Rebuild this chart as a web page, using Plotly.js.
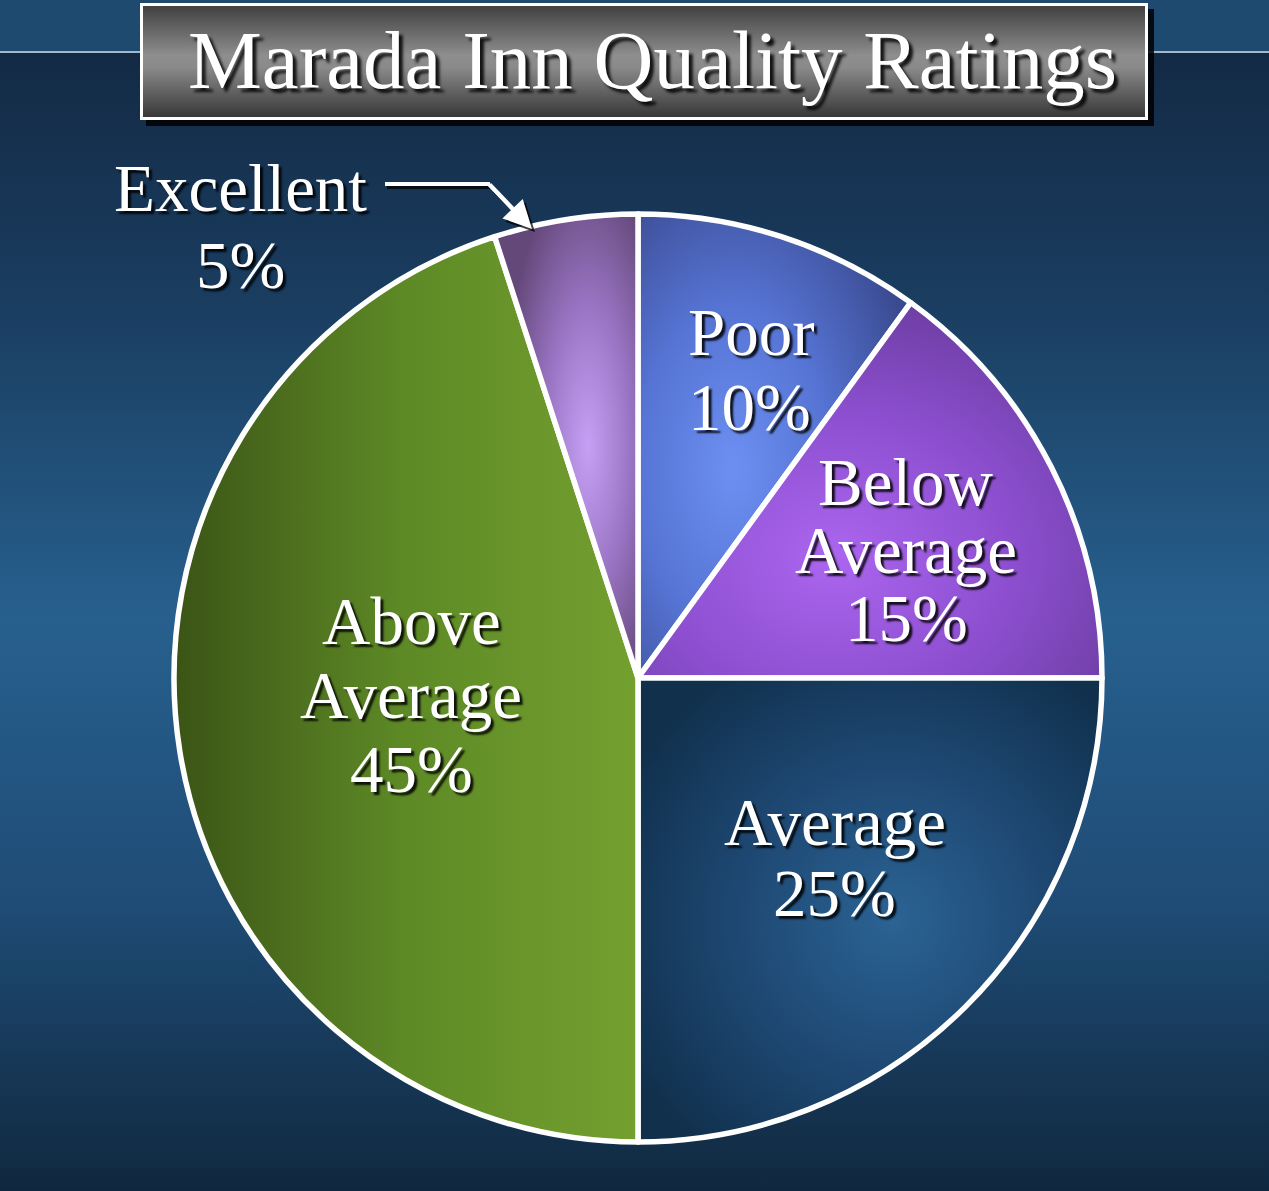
<!DOCTYPE html>
<html>
<head>
<meta charset="utf-8">
<script src="https://cdn.plot.ly/plotly-3.0.1.min.js"></script>
<style>
  html, body { margin: 0; padding: 0; width: 1269px; height: 1191px; overflow: hidden; }
  body {
    background: linear-gradient(to bottom,
      #1f4a70 0px, #1f4a70 52px,
      #132a45 53px, #1a3d60 300px, #27608e 620px, #1f4c76 900px, #10283f 1191px);
  }
  #chart { width: 1269px; height: 1191px; }
</style>
</head>
<body>
<div id="chart"></div>
<script>
// Survey results: share of guests giving each quality rating
const categories = ['Poor', 'Below Average', 'Average', 'Above Average', 'Excellent'];
const shares = [10, 15, 25, 45, 5];
const sliceColors = ['#5a78d8', '#8a4ccc', '#1d4670', '#5e8a26', '#a07cc8'];
const chartTitle = 'Marada Inn Quality Ratings';

const W = 1269, H = 1191;
const px = x => x / W;
const py = y => 1 - y / H;

// Where each slice's label block sits (first-line centre, in page pixels)
const labelSpots = [
  { x: 686, y: 332, gap: 75, anchor: 'left' },
  { x: 906, y: 482, gap: 68 },
  { x: 835, y: 822, gap: 71 },
  { x: 411, y: 621, gap: 74 },
  { x: 240, y: 188, gap: 77 }
];

const serif = '"Liberation Serif", "Times New Roman", serif';
const labelFont = { family: serif, size: 67, color: '#ffffff', shadow: '3px 3px 2px rgba(0,0,0,0.85)' };

const annotations = [];
categories.forEach((name, i) => {
  const lines = name.split(' ').concat([shares[i] + '%']);
  const spot = labelSpots[i];
  lines.forEach((t, k) => {
    annotations.push({
      text: t, xref: 'paper', yref: 'paper',
      x: px(spot.x), y: py(spot.y + k * spot.gap),
      xanchor: spot.anchor || 'center', yanchor: 'middle',
      showarrow: false, font: labelFont
    });
  });
});

// Title inside the grey plaque
annotations.push({
  text: chartTitle, xref: 'paper', yref: 'paper',
  x: px(652), y: py(60), xanchor: 'center', yanchor: 'middle', showarrow: false,
  font: { family: serif, size: 83, color: '#ffffff', shadow: '4px 4px 3px rgba(0,0,0,0.85)' }
});

// Pointer from the "Excellent" label down to its slice (shadow, then arrow)
annotations.push({
  text: '', xref: 'paper', yref: 'paper',
  x: px(535), y: py(232), ax: 490 - 532, ay: 186 - 229,
  showarrow: true, arrowhead: 2, arrowsize: 1.25, arrowwidth: 4.5,
  arrowcolor: 'rgba(0,0,0,0.75)', standoff: 0
});
annotations.push({
  text: '', xref: 'paper', yref: 'paper',
  x: px(532), y: py(229), ax: 488 - 532, ay: 183 - 229,
  showarrow: true, arrowhead: 2, arrowsize: 1.25, arrowwidth: 4.5,
  arrowcolor: '#ffffff', standoff: 0
});

const plaqueSvg =
  "<svg xmlns='http://www.w3.org/2000/svg' width='1008' height='117' preserveAspectRatio='none'>" +
  "<defs><linearGradient id='t' x1='0' y1='0' x2='0' y2='1'>" +
  "<stop offset='0' stop-color='#3c3c3c'/><stop offset='0.45' stop-color='#8e8e8e'/>" +
  "<stop offset='0.55' stop-color='#8a8a8a'/><stop offset='1' stop-color='#333333'/>" +
  "</linearGradient></defs><rect width='1008' height='117' fill='url(#t)'/></svg>";

const shapes = [
  // thin rule across the header
  { type: 'line', xref: 'paper', yref: 'paper', x0: 0, x1: 1, y0: py(52), y1: py(52),
    line: { color: '#a3b7ca', width: 2 }, layer: 'below' },
  // plaque drop shadow
  { type: 'rect', xref: 'paper', yref: 'paper', x0: px(146), x1: px(1154), y0: py(9), y1: py(126),
    fillcolor: 'rgba(0,0,0,0.85)', line: { width: 0 }, layer: 'below' },
  // plaque border
  { type: 'rect', xref: 'paper', yref: 'paper', x0: px(141.5), x1: px(1146.5), y0: py(4.5), y1: py(118.5),
    fillcolor: 'rgba(0,0,0,0)', line: { color: '#ffffff', width: 3 }, layer: 'above' },
  // pointer lead-in, with its shadow
  { type: 'line', xref: 'paper', yref: 'paper', x0: px(387), x1: px(491), y0: py(187), y1: py(187),
    line: { color: 'rgba(0,0,0,0.75)', width: 4 }, layer: 'above' },
  { type: 'line', xref: 'paper', yref: 'paper', x0: px(385), x1: px(490), y0: py(184), y1: py(184),
    line: { color: '#ffffff', width: 4 }, layer: 'above' }
];

const images = [{
  source: 'data:image/svg+xml;charset=utf-8,' + encodeURIComponent(plaqueSvg),
  xref: 'paper', yref: 'paper', x: px(140), y: py(3),
  sizex: (1148 - 140) / W, sizey: (120 - 3) / H,
  xanchor: 'left', yanchor: 'top', sizing: 'stretch', layer: 'above'
}];

const cx = 638, cy = 678, r = 464;
const trace = {
  type: 'pie',
  labels: categories,
  values: shares,
  sort: false,
  direction: 'clockwise',
  rotation: 0,
  marker: { colors: sliceColors, line: { color: '#ffffff', width: 5.5 } },
  textinfo: 'none',
  textposition: 'none',
  hoverinfo: 'skip',
  showlegend: false,
  domain: { x: [px(cx - r), px(cx + r)], y: [py(cy + r), py(cy - r)] }
};

const layout = {
  width: W, height: H,
  margin: { l: 0, r: 0, t: 0, b: 0 },
  paper_bgcolor: 'rgba(0,0,0,0)',
  plot_bgcolor: 'rgba(0,0,0,0)',
  showlegend: false,
  annotations, shapes, images
};

// Shading for each slice (stops in slice-bounding-box units)
const sliceShading = {
  'Poor': { kind: 'radial', cx: 0.35, cy: 0.55, r: 0.7,
    stops: [[0, '#6c90f2'], [0.5, '#5674d4'], [1, '#3a4a90']] },
  'Below Average': { kind: 'radial', cx: 0.42, cy: 0.68, r: 0.85,
    stops: [[0, '#ab66ef'], [0.45, '#8d4fd0'], [0.8, '#6f3fa6'], [1, '#5a3282']] },
  'Average': { kind: 'radial', cx: 0.55, cy: 0.52, r: 0.65,
    stops: [[0, '#2b6394'], [0.55, '#1d4670'], [1, '#10304c']] },
  'Above Average': { kind: 'linear', x1: 0, y1: 0, x2: 1, y2: 0,
    stops: [[0, '#3b5416'], [0.5, '#5e8a26'], [1, '#74a030']] },
  'Excellent': { kind: 'radial', cx: 0.65, cy: 0.5, r: 0.6,
    stops: [[0, '#c6a0f4'], [0.5, '#9a74c4'], [1, '#644879']] }
};

Plotly.newPlot('chart', [trace], layout, { staticPlot: true, displayModeBar: false }).then(gd => {
  const NS = 'http://www.w3.org/2000/svg';
  const svg = gd.querySelector('.main-svg');
  let defs = svg.querySelector('defs');
  if (!defs) { defs = document.createElementNS(NS, 'defs'); svg.insertBefore(defs, svg.firstChild); }
  gd.querySelectorAll('.pielayer path.surface').forEach(path => {
    const pt = path.__data__;
    if (!pt) return;
    const label = categories[pt.i];
    const s = sliceShading[label];
    if (!s) return;
    const id = 'shade-' + pt.i;
    const g = document.createElementNS(NS, s.kind === 'radial' ? 'radialGradient' : 'linearGradient');
    g.setAttribute('id', id);
    if (s.kind === 'radial') {
      g.setAttribute('cx', s.cx); g.setAttribute('cy', s.cy); g.setAttribute('r', s.r);
    } else {
      g.setAttribute('x1', s.x1); g.setAttribute('y1', s.y1);
      g.setAttribute('x2', s.x2); g.setAttribute('y2', s.y2);
    }
    s.stops.forEach(([o, c]) => {
      const st = document.createElementNS(NS, 'stop');
      st.setAttribute('offset', o); st.setAttribute('stop-color', c);
      g.appendChild(st);
    });
    defs.appendChild(g);
    path.style.fill = 'url(#' + id + ')';
    path.style.fillOpacity = 1;
  });
});
</script>
</body>
</html>
